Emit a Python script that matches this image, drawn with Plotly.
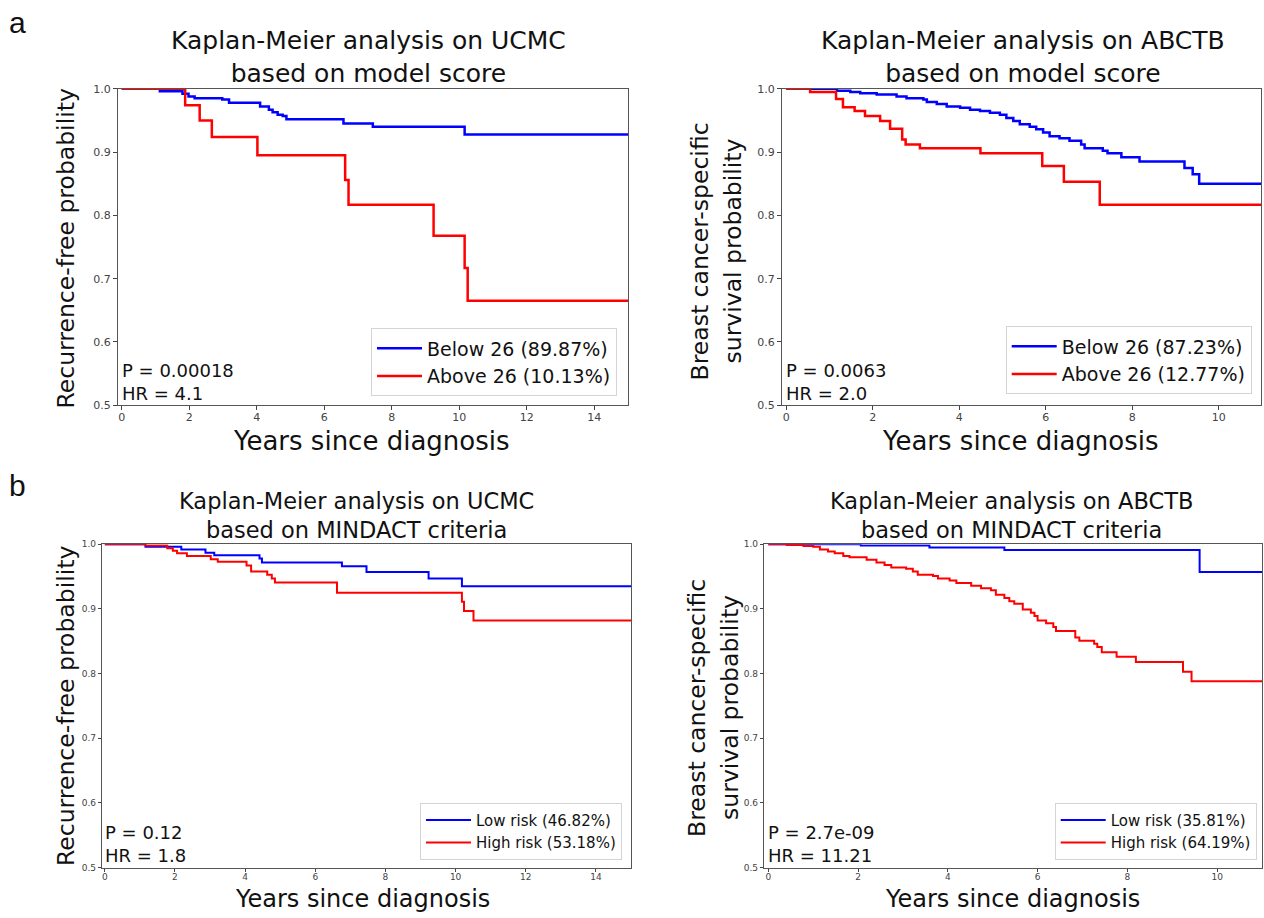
import plotly.graph_objects as go

W, H = 1264, 918

# ---------------- data ----------------
# Panel a-left: UCMC, model score
ucmc_model_below_t = [0, 1.13, 1.80, 1.98, 2.16, 2.98, 3.18, 4.10, 4.36, 4.47, 4.62, 4.77, 4.88, 6.57, 7.44, 10.16, 15.0]
ucmc_model_below_s = [1.0, 0.996, 0.992, 0.988, 0.985, 0.983, 0.978, 0.972, 0.967, 0.963, 0.959, 0.957, 0.952, 0.945, 0.940, 0.928, 0.928]
ucmc_model_above_t = [0, 1.88, 2.31, 2.67, 4.02, 6.62, 6.72, 9.24, 10.16, 10.25, 15.0]
ucmc_model_above_s = [1.0, 0.974, 0.950, 0.924, 0.895, 0.856, 0.817, 0.768, 0.717, 0.665, 0.665]

# Panel a-right: ABCTB, model score
abctb_model_below_t = [0, 1.17, 1.48, 1.71, 2.09, 2.55, 2.78, 3.17, 3.25, 3.48, 3.71, 4.02, 4.25, 4.48, 4.71, 4.94,
                       5.09, 5.25, 5.40, 5.63, 5.78, 5.94, 6.09, 6.32, 6.55, 6.82, 6.90, 7.32, 7.43, 7.75, 8.17,
                       9.21, 9.40, 9.55, 11.0]
abctb_model_below_s = [1.0, 0.997, 0.995, 0.993, 0.991, 0.988, 0.985, 0.983, 0.979, 0.976, 0.972, 0.970, 0.967, 0.965,
                       0.962, 0.959, 0.954, 0.949, 0.944, 0.940, 0.936, 0.931, 0.925, 0.922, 0.918, 0.912, 0.906,
                       0.902, 0.898, 0.892, 0.885, 0.875, 0.865, 0.850, 0.850]
abctb_model_above_t = [0, 0.55, 1.15, 1.31, 1.58, 1.82, 2.17, 2.40, 2.68, 2.76, 3.09, 4.49, 5.92, 6.42, 7.25, 11.0]
abctb_model_above_s = [1.0, 0.995, 0.984, 0.971, 0.965, 0.957, 0.949, 0.937, 0.920, 0.912, 0.906, 0.898, 0.878,
                       0.853, 0.817, 0.817]

# Panel b-left: UCMC, MINDACT
ucmc_mind_low_t = [0, 1.16, 2.18, 2.87, 3.12, 4.41, 4.48, 6.76, 7.46, 9.23, 10.18, 15.0]
ucmc_mind_low_s = [1.0, 0.996, 0.992, 0.987, 0.983, 0.978, 0.972, 0.966, 0.957, 0.947, 0.935, 0.935]
ucmc_mind_high_t = [0, 1.16, 1.78, 1.94, 2.06, 2.34, 3.02, 3.22, 4.04, 4.17, 4.63, 4.76, 4.85, 6.62, 10.18, 10.24,
                    10.51, 15.0]
ucmc_mind_high_s = [1.0, 0.998, 0.994, 0.990, 0.986, 0.982, 0.977, 0.973, 0.967, 0.958, 0.953, 0.947, 0.941, 0.925,
                    0.911, 0.897, 0.882, 0.882]

# Panel b-right: ABCTB, MINDACT
abctb_mind_low_t = [0, 2.06, 3.59, 5.26, 9.61, 11.0]
abctb_mind_low_s = [1.0, 0.998, 0.995, 0.991, 0.957, 0.957]
abctb_mind_high_t = [0, 0.41, 0.78, 1.0, 1.15, 1.33, 1.48, 1.67, 1.81, 2.19, 2.41, 2.59, 2.74, 3.07, 3.22, 3.33,
                     3.67, 3.78, 4.04, 4.19, 4.52, 4.74, 4.96, 5.07, 5.26, 5.37, 5.48, 5.67, 5.85, 5.93, 6.0, 6.19,
                     6.35, 6.41, 6.84, 6.93, 7.26, 7.33, 7.43, 7.76, 8.19, 9.24, 9.43, 11.0]
abctb_mind_high_s = [1.0, 0.999, 0.9975, 0.996, 0.992, 0.989, 0.986, 0.982, 0.980, 0.976, 0.972, 0.968, 0.964,
                     0.962, 0.958, 0.953, 0.951, 0.947, 0.944, 0.940, 0.936, 0.932, 0.929, 0.922, 0.917, 0.912,
                     0.908, 0.899, 0.894, 0.889, 0.882, 0.878, 0.872, 0.866, 0.856, 0.851, 0.846, 0.841, 0.833,
                     0.826, 0.818, 0.803, 0.788, 0.788]

legend_labels = [
    ["Below 26 (89.87%)", "Above 26 (10.13%)"],
    ["Below 26 (87.23%)", "Above 26 (12.77%)"],
    ["Low risk (46.82%)", "High risk (53.18%)"],
    ["Low risk (35.81%)", "High risk (64.19%)"],
]
stats_text = [["P = 0.00018", "HR = 4.1"], ["P = 0.0063", "HR = 2.0"],
              ["P = 0.12", "HR = 1.8"], ["P = 2.7e-09", "HR = 11.21"]]
titles = [["Kaplan-Meier analysis on UCMC", "based on model score"],
          ["Kaplan-Meier analysis on ABCTB", "based on model score"],
          ["Kaplan-Meier analysis on UCMC", "based on MINDACT criteria"],
          ["Kaplan-Meier analysis on ABCTB", "based on MINDACT criteria"]]
ylabels = [["Recurrence-free probability"],
           ["Breast cancer-specific", "survival probability"],
           ["Recurrence-free probability"],
           ["Breast cancer-specific", "survival probability"]]
xlabel = "Years since diagnosis"
y_ticks = [0.5, 0.6, 0.7, 0.8, 0.9, 1.0]
x_ticks = [0, 2, 4, 6, 8, 10, 12, 14]

curves = [
    (ucmc_model_below_t, ucmc_model_below_s, ucmc_model_above_t, ucmc_model_above_s),
    (abctb_model_below_t, abctb_model_below_s, abctb_model_above_t, abctb_model_above_s),
    (ucmc_mind_low_t, ucmc_mind_low_s, ucmc_mind_high_t, ucmc_mind_high_s),
    (abctb_mind_low_t, abctb_mind_low_s, abctb_mind_high_t, abctb_mind_high_s),
]

# ---------------- layout geometry (pixels) ----------------
boxes = [(118, 628, 84, 405), (782, 1261, 84, 405), (102, 631, 546, 874), (764, 1262, 546, 874)]
xranges = [[-0.11, 15.0], [-0.1, 10.98], [-0.08, 15.0], [-0.096, 11.0]]
title_pos = [(368, 52), (1023, 52), (356, 517), (1011, 517)]
title_size = [25, 25, 22.5, 22.5]
xlab_pos = [(371, 441), (1020, 441), (363, 906), (1012, 906)]
xlab_size = [26, 26, 24, 24]
ylab_pos = [[(66, 246)], [(700, 249), (733, 249)], [(66, 710)], [(697, 712), (730, 712)]]
legend_pos = [(617, 396), (1251.7, 394), (622, 866), (1256.7, 866)]
legend_font = [19, 19, 15, 15]
tick_font = [11, 11, 9, 9]
tick_len = [4, 4, 3, 3]
line_w = [2.5, 2.5, 2.0, 2.0]
stats_y = [0.5374, 0.5374, 0.5358, 0.5358]
stats_size = [18, 18, 18, 18]


def px(x):
    return x / W


def py(y):
    return 1 - y / H


fig = go.Figure()
layout_axes = {}
annotations = []
legends = {}
colors = ["#0000ff", "#ff0000"]

for i, (bt, bs, at, as_) in enumerate(curves):
    n = "" if i == 0 else str(i + 1)
    lg = "legend" if i == 0 else f"legend{i + 1}"
    for k, (t, s) in enumerate([(bt, bs), (at, as_)]):
        fig.add_trace(go.Scatter(
            x=t, y=s, mode="lines", line=dict(color=colors[k], width=line_w[i], shape="hv"),
            name=legend_labels[i][k], xaxis="x" + n, yaxis="y" + n, legend=lg, showlegend=True,
            hoverinfo="skip",
        ))
    l, r, t_, b = boxes[i]
    layout_axes["xaxis" + n] = dict(
        domain=[px(l), px(r)], anchor="y" + n, range=xranges[i],
        tickmode="array", tickvals=x_ticks, ticktext=[str(v) for v in x_ticks],
        ticks="outside", ticklen=tick_len[i], tickcolor="#444", tickwidth=1,
        ticklabelstandoff=-3,
        showline=True, linecolor="#555", linewidth=1.3, mirror=True, showgrid=False, zeroline=False,
        tickfont=dict(family="DejaVu Sans", size=tick_font[i], color="#444"),
    )
    layout_axes["yaxis" + n] = dict(
        domain=[py(b), py(t_)], anchor="x" + n, range=[0.5, 1.0],
        tickmode="array", tickvals=y_ticks, ticktext=[f"{v:.1f}" for v in y_ticks],
        ticks="outside", ticklen=tick_len[i], tickcolor="#444", tickwidth=1,
        showline=True, linecolor="#555", linewidth=1.3, mirror=True, showgrid=False, zeroline=False,
        tickfont=dict(family="DejaVu Sans", size=tick_font[i], color="#444"),
    )
    lx, ly = legend_pos[i]
    legends[lg] = dict(
        x=px(lx), y=py(ly), xanchor="right", yanchor="bottom", xref="paper", yref="paper",
        bgcolor="rgba(255,255,255,0.85)", bordercolor="#d4d4d4", borderwidth=1,
        font=dict(family="DejaVu Sans", size=legend_font[i], color="#111"),
        itemwidth=45, tracegroupgap=0,
    )
    cx, cy = title_pos[i]
    annotations.append(dict(x=px(cx), y=py(cy), xref="paper", yref="paper",
                            text="<br>".join(titles[i]), showarrow=False, align="center",
                            xanchor="center", yanchor="middle",
                            font=dict(family="DejaVu Sans", size=title_size[i], color="#111")))
    xx, yy = xlab_pos[i]
    annotations.append(dict(x=px(xx), y=py(yy), xref="paper", yref="paper", text=xlabel, showarrow=False,
                            xanchor="center", yanchor="middle",
                            font=dict(family="DejaVu Sans", size=xlab_size[i], color="#111")))
    for (xx, yy), txt in zip(ylab_pos[i], ylabels[i]):
        annotations.append(dict(x=px(xx), y=py(yy), xref="paper", yref="paper", text=txt, showarrow=False,
                                textangle=-90, xanchor="center", yanchor="middle",
                                font=dict(family="DejaVu Sans", size=23.5, color="#111")))
    annotations.append(dict(x=0.0, y=stats_y[i], xref="x" + n, yref="y" + n,
                            text="<br>".join(stats_text[i]), showarrow=False, align="left",
                            xanchor="left", yanchor="middle", xshift=-2,
                            font=dict(family="DejaVu Sans", size=stats_size[i], color="#111")))

annotations.append(dict(x=px(17), y=py(17), xref="paper", yref="paper", text="a", showarrow=False,
                        xanchor="center", yanchor="middle", font=dict(family="Liberation Sans", size=30, color="#111")))
annotations.append(dict(x=px(17), y=py(486), xref="paper", yref="paper", text="b", showarrow=False,
                        xanchor="center", yanchor="middle", font=dict(family="Liberation Sans", size=30, color="#111")))

fig.update_layout(
    width=W, height=H, autosize=False,
    margin=dict(l=0, r=0, t=0, b=0, pad=0),
    paper_bgcolor="white", plot_bgcolor="white",
    annotations=annotations,
    **layout_axes,
    **legends,
)

fig.write_html(
    "out.html",
    config={"displayModeBar": False},
    post_script="document.body.style.margin='0';document.body.style.overflow='hidden';"
                "document.documentElement.style.overflow='hidden';",
)
